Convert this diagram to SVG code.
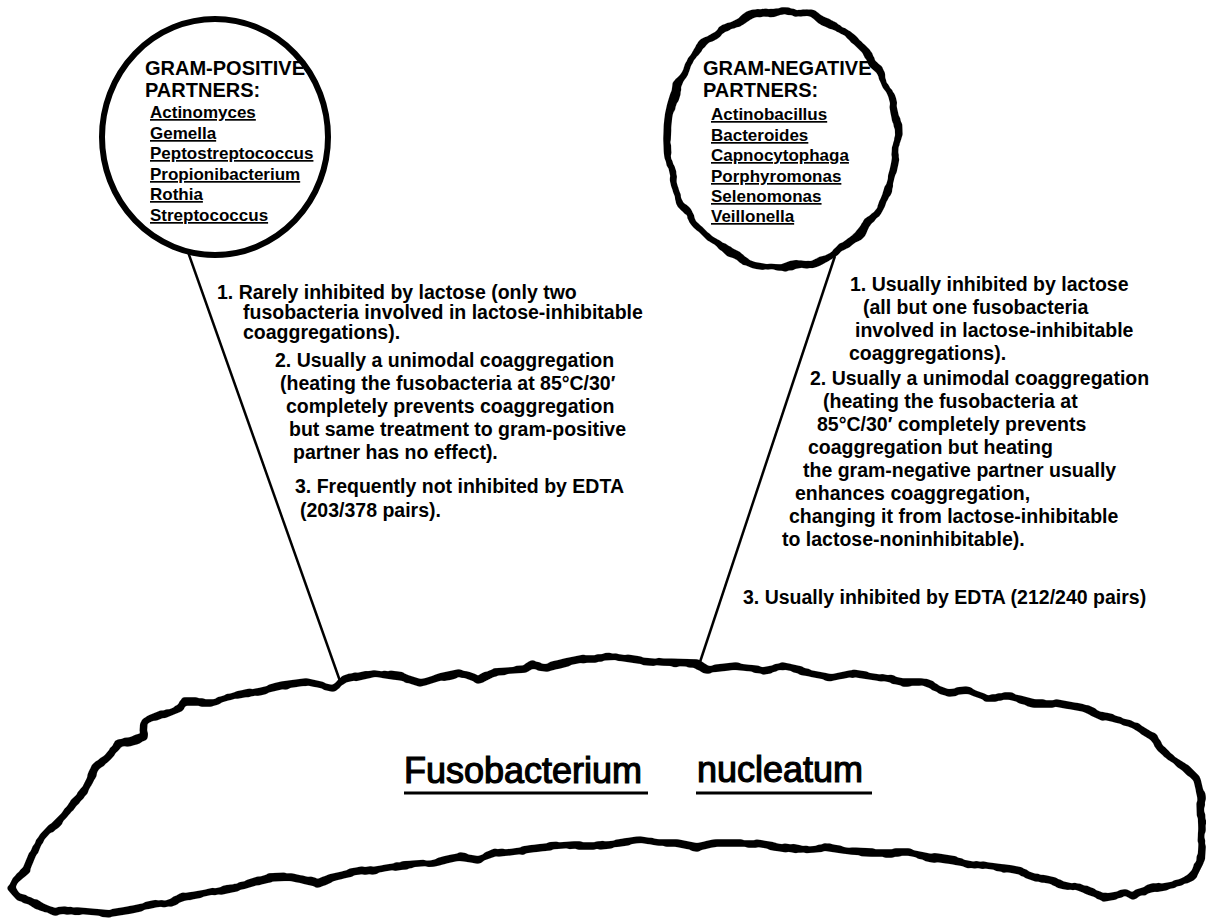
<svg xmlns="http://www.w3.org/2000/svg" width="1206" height="918" viewBox="0 0 1206 918">
<style>
  .hd { font-family: "Liberation Sans", Arial, sans-serif; font-weight: bold; font-size: 20px; fill: #000; }
  .sp { font-family: "Liberation Sans", Arial, sans-serif; font-weight: bold; font-size: 17px; fill: #000; text-decoration: underline; }
  .tx { font-family: "Liberation Sans", Arial, sans-serif; font-weight: bold; font-size: 19.5px; fill: #000; }
  .big { font-family: "Liberation Sans", Arial, sans-serif; font-size: 36px; fill: #000; stroke: #000; stroke-width: 1.2; }
  .outline { fill: none; stroke: #000; stroke-linejoin: round; stroke-linecap: round; }
</style>
<defs>
  <filter id="wavy" filterUnits="userSpaceOnUse" x="0" y="0" width="1206" height="918">
    <feTurbulence type="fractalNoise" baseFrequency="0.055" numOctaves="1" seed="4" result="n"/>
    <feDisplacementMap in="SourceGraphic" in2="n" scale="10" xChannelSelector="R" yChannelSelector="G" result="d"/>
    <feGaussianBlur in="d" stdDeviation="1.3" result="b"/>
    <feComponentTransfer in="b"><feFuncA type="linear" slope="3" intercept="-0.75"/></feComponentTransfer>
  </filter>
  <filter id="wavy2" filterUnits="userSpaceOnUse" x="0" y="0" width="1206" height="918">
    <feTurbulence type="fractalNoise" baseFrequency="0.05" numOctaves="1" seed="7" result="n"/>
    <feDisplacementMap in="SourceGraphic" in2="n" scale="6" xChannelSelector="R" yChannelSelector="G" result="d"/>
    <feGaussianBlur in="d" stdDeviation="1.3" result="b"/>
    <feComponentTransfer in="b"><feFuncA type="linear" slope="3" intercept="-0.75"/></feComponentTransfer>
  </filter>
</defs>
<rect width="1206" height="918" fill="#fff"/>

<g id="connectors">
  <line x1="188" y1="252" x2="340" y2="681" stroke="#000" stroke-width="2.5"/>
  <line x1="835" y1="256" x2="698" y2="668" stroke="#000" stroke-width="2.5"/>
</g>

<g id="gram-positive">
  <ellipse class="outline" cx="215" cy="137" rx="113" ry="118" stroke-width="6"/>
  <text class="hd" x="145" y="75">GRAM-POSITIVE</text>
  <text class="hd" x="145" y="97">PARTNERS:</text>
  <text class="sp" x="150" y="118">Actinomyces</text>
  <text class="sp" x="150" y="139">Gemella</text>
  <text class="sp" x="150" y="159">Peptostreptococcus</text>
  <text class="sp" x="150" y="180">Propionibacterium</text>
  <text class="sp" x="150" y="200">Rothia</text>
  <text class="sp" x="150" y="221">Streptococcus</text>
</g>

<g id="gram-negative">
  <ellipse class="outline" cx="782" cy="139" rx="115" ry="128" stroke-width="7" filter="url(#wavy)"/>
  <text class="hd" x="703" y="75">GRAM-NEGATIVE</text>
  <text class="hd" x="703" y="97">PARTNERS:</text>
  <text class="sp" x="711" y="120">Actinobacillus</text>
  <text class="sp" x="711" y="141">Bacteroides</text>
  <text class="sp" x="711" y="161">Capnocytophaga</text>
  <text class="sp" x="711" y="182">Porphyromonas</text>
  <text class="sp" x="711" y="202">Selenomonas</text>
  <text class="sp" x="711" y="222">Veillonella</text>
</g>

<g id="positive-notes">
  <text class="tx" x="217" y="299">1. Rarely inhibited by lactose (only two</text>
  <text class="tx" x="243" y="319">fusobacteria involved in lactose-inhibitable</text>
  <text class="tx" x="243" y="339">coaggregations).</text>
  <text class="tx" x="275" y="367">2. Usually a unimodal coaggregation</text>
  <text class="tx" x="280" y="390">(heating the fusobacteria at 85°C/30′</text>
  <text class="tx" x="286" y="413">completely prevents coaggregation</text>
  <text class="tx" x="289" y="436">but same treatment to gram-positive</text>
  <text class="tx" x="293" y="459">partner has no effect).</text>
  <text class="tx" x="295" y="493">3. Frequently not inhibited by EDTA</text>
  <text class="tx" x="300" y="517">(203/378 pairs).</text>
</g>

<g id="negative-notes">
  <text class="tx" x="850" y="291">1. Usually inhibited by lactose</text>
  <text class="tx" x="863" y="314">(all but one fusobacteria</text>
  <text class="tx" x="855" y="337">involved in lactose-inhibitable</text>
  <text class="tx" x="849" y="360">coaggregations).</text>
  <text class="tx" x="810" y="385">2. Usually a unimodal coaggregation</text>
  <text class="tx" x="823" y="408">(heating the fusobacteria at</text>
  <text class="tx" x="817" y="431">85°C/30′  completely prevents</text>
  <text class="tx" x="808" y="454">coaggregation but heating</text>
  <text class="tx" x="803" y="477">the gram-negative partner usually</text>
  <text class="tx" x="795" y="500">enhances coaggregation,</text>
  <text class="tx" x="789" y="523">changing it from lactose-inhibitable</text>
  <text class="tx" x="782" y="546">to lactose-noninhibitable).</text>
  <text class="tx" x="743" y="604">3. Usually inhibited by EDTA (212/240 pairs)</text>
</g>

<g id="fusobacterium">
  <path class="outline" stroke-width="7" filter="url(#wavy2)" d="M11,888 L15,880 L27,870 L34,853 L38,843 L50,830 L65,815 L73,803 L84,793 L92,777 L96,767 L107,757 L119,743 L130,742 L144,737 L145,722 L153,718 L180,707 L184,702 L214,702 L237,695 L253,692 L283,685 L306,682 L333,688 L344,680 L375,673 L402,677 L421,683 L440,677 L459,673 L478,680 L494,672 L524,670 L532,665 L547,667 L566,662 L586,658 L600,658 L619,657 L639,660 L662,662 L697,663 L708,670 L735,667 L762,670 L782,667 L805,672 L832,677 L851,673 L878,677 L902,682 L921,682 L948,692 L967,690 L987,697 L1010,697 L1033,703 L1056,703 L1083,708 L1103,717 L1130,723 L1153,737 L1168,757 L1184,767 L1197,780 L1201,797 L1202,830 L1200,863 L1193,877 L1180,883 L1157,887 L1137,893 L1133,897 L1126,893 L1103,897 L1091,893 L1075,887 L1045,880 L1025,873 L1010,870 L987,867 L967,863 L948,860 L929,857 L909,853 L871,853 L851,852 L824,848 L801,850 L782,847 L755,843 L716,843 L697,847 L677,843 L658,843 L639,840 L619,843 L600,845 L574,845 L547,847 L524,850 L498,853 L478,860 L459,857 L432,863 L402,865 L383,868 L352,873 L329,878 L318,883 L291,877 L268,878 L245,885 L230,888 L207,893 L184,897 L168,903 L153,905 L130,910 L111,913 L100,912 L77,910 L54,912 L42,907 L31,900 L19,897 Z"/>
  <text class="big" x="404" y="783">Fusobacterium</text>
  <text class="big" x="697" y="782">nucleatum</text>
  <line x1="404" y1="793" x2="648" y2="793" stroke="#000" stroke-width="3"/>
  <line x1="696" y1="793" x2="872" y2="793" stroke="#000" stroke-width="3"/>
</g>
</svg>
